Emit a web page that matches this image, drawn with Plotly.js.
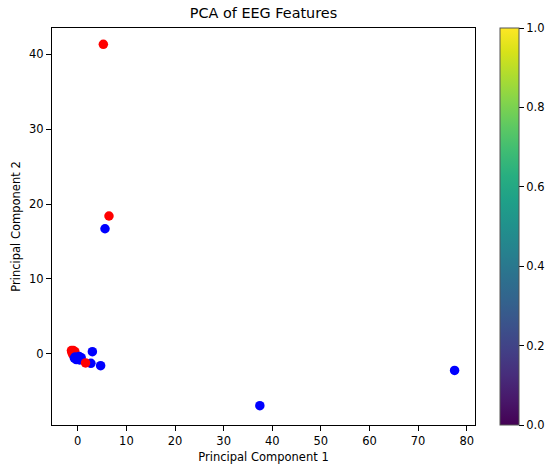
<!DOCTYPE html>
<html>
<head>
<meta charset="utf-8">
<script src="https://cdn.plot.ly/plotly-3.0.1.min.js"></script>
<style>html,body{margin:0;padding:0;background:#fff}</style>
</head>
<body>
<div id="chart" style="width:557px;height:466px"></div>
<script>
// Points in drawing order
const pc1 = [-1.2, -0.9, -1.0, -0.6, -1.3, -0.8, 5.26, 6.42,
             -0.7, -0.3, 0.1, 0.4, 0.7, 0.3, -0.5, 3.0, 2.7, 4.7, 5.6, 37.45, 77.5,
             1.6];
const pc2 = [0.2, 0.45, -0.1, 0.3, 0.45, 0.0, 41.3, 18.4,
             -0.55, -0.75, -0.6, -0.8, -0.5, -0.35, -0.4, 0.3, -1.24, -1.56, 16.7, -6.9, -2.2,
             -1.2];
const labels = [1, 1, 1, 1, 1, 1, 1, 1,
                0, 0, 0, 0, 0, 0, 0, 0, 0, 0, 0, 0, 0,
                1];
const classColors = ['#0000ff', '#ff0000'];
const cbTicks = [0, 0.2, 0.4, 0.6, 0.8, 1.0];

const font = {family: 'DejaVu Sans', size: 11.5, color: '#000'};

const traces = [
  {
    type: 'scatter', mode: 'markers',
    x: pc1, y: pc2,
    marker: {size: 9.5, color: labels.map(l => classColors[l]), line: {width: 0}},
    hoverinfo: 'x+y', showlegend: false
  },
  {
    type: 'scatter', mode: 'markers',
    x: [null], y: [null],
    marker: {
      color: [0], cmin: 0, cmax: 1, colorscale: 'Viridis', showscale: true,
      colorbar: {
        x: 1.058, xanchor: 'left', xref: 'paper',
        y: 0.5, yanchor: 'middle', len: 1, lenmode: 'fraction',
        thickness: 19, thicknessmode: 'pixels',
        xpad: 0, ypad: 0,
        outlinewidth: 1, outlinecolor: '#555',
        tickvals: cbTicks, ticktext: cbTicks.map(v => v.toFixed(1)),
        ticks: 'outside', ticklen: 5, tickwidth: 1, tickcolor: '#000',
        tickfont: font
      }
    },
    showlegend: false, hoverinfo: 'skip'
  }
];

const axisCommon = {
  showgrid: false, zeroline: false,
  showline: true, linecolor: '#000', linewidth: 1, mirror: true,
  ticks: 'outside', ticklen: 5, tickwidth: 1, tickcolor: '#000',
  tickfont: font
};

const layout = {
  width: 557, height: 466,
  margin: {l: 52, r: 74, t: 28, b: 41},
  paper_bgcolor: '#fff', plot_bgcolor: '#fff',
  font: font,
  title: {text: 'PCA of EEG Features', font: {family: 'DejaVu Sans', size: 14.4, color: '#000'},
          x: 0.5, xref: 'paper', xanchor: 'center', y: 1, yref: 'container', yanchor: 'top', pad: {t: 8}},
  xaxis: Object.assign({}, axisCommon, {
    range: [-5.3, 81.7], tickvals: [0, 10, 20, 30, 40, 50, 60, 70, 80],
    title: {text: 'Principal Component 1', font: font, standoff: 6}
  }),
  yaxis: Object.assign({}, axisCommon, {
    range: [-9.47, 43.47], tickvals: [0, 10, 20, 30, 40],
    title: {text: 'Principal Component 2', font: font, standoff: 6}
  }),
  showlegend: false
};

Plotly.newPlot('chart', traces, layout, {displayModeBar: false, staticPlot: true});
</script>
</body>
</html>
